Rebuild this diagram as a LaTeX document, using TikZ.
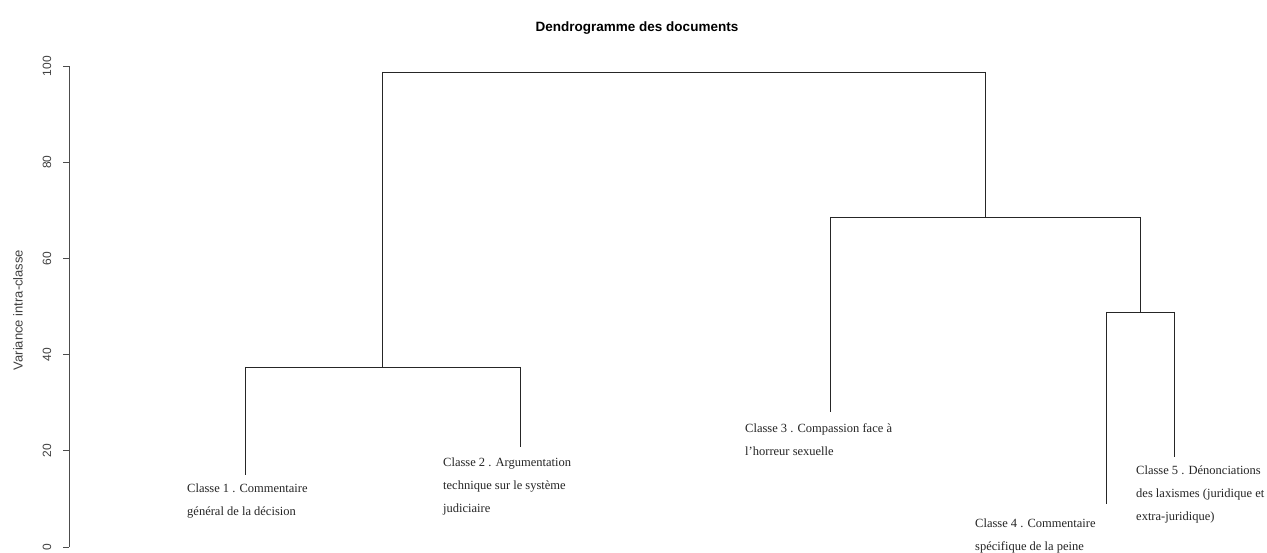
\documentclass[tikz,border=0pt]{standalone}
\usepackage{fontspec}
\setmainfont{Liberation Serif}
\newfontfamily\arial{Liberation Sans}
\begin{document}
\begin{tikzpicture}[x=1pt,y=-1pt,
  branch/.style={draw=black!85, line width=0.8pt},
  axisline/.style={draw=black!70, line width=0.8pt},
  ticklabel/.style={font=\arial\fontsize{12}{14}\selectfont, text=black!75, rotate=90, inner sep=0},
  leaflabel/.style={anchor=north west, inner sep=0, align=left, text=black!85, font=\fontsize{12.5}{23}\selectfont},
  titlestyle/.style={font=\arial\bfseries\fontsize{13.5}{15}\selectfont, inner sep=0}]
\useasboundingbox (0,0) rectangle (1267,553);
\fill[white] (0,0) rectangle (1267,553);
% title
\node[titlestyle] (title) at (637,28) {Dendrogramme des documents};
% axis
\coordinate (ax0) at (69,547);
\coordinate (ax100) at (69,66);
\draw[axisline] (ax0) -- (ax100);
\foreach \v/\yy in {0/547,20/450.8,40/354.6,60/258.4,80/162.2,100/66}{
  \draw[axisline] (63,\yy) -- (69,\yy);
  \node[ticklabel] (t\v) at (47,\yy) {\v};
}
\node[ticklabel, font=\arial\fontsize{13}{15}\selectfont] (ytitle) at (18,310) {Variance intra-classe};
% tree nodes
\coordinate (A) at (382,72);
\coordinate (B) at (985,72);
\coordinate (A0) at (382,367);
\coordinate (Al) at (245,367);
\coordinate (Ar) at (520,367);
\coordinate (L1) at (245,475);
\coordinate (L2) at (520,447);
\coordinate (B0) at (985,217);
\coordinate (Bl) at (830,217);
\coordinate (Br) at (1140,217);
\coordinate (L3) at (830,412);
\coordinate (C0) at (1140,312);
\coordinate (Cl) at (1106,312);
\coordinate (Cr) at (1174,312);
\coordinate (L4) at (1106,504);
\coordinate (L5) at (1174,457);
\draw[branch] (A) -- (B);
\draw[branch] (A) -- (A0);
\draw[branch] (Al) -- (Ar);
\draw[branch] (Al) -- (L1);
\draw[branch] (Ar) -- (L2);
\draw[branch] (B) -- (B0);
\draw[branch] (Bl) -- (Br);
\draw[branch] (Bl) -- (L3);
\draw[branch] (Br) -- (C0);
\draw[branch] (Cl) -- (Cr);
\draw[branch] (Cl) -- (L4);
\draw[branch] (Cr) -- (L5);
% leaf labels
\node[leaflabel] (c1) at (187,484) {Classe 1 . Commentaire\\général de la décision};
\node[leaflabel] (c2) at (443,458) {Classe 2 . Argumentation\\technique sur le système\\judiciaire};
\node[leaflabel] (c3) at (745,423) {Classe 3 . Compassion face à\\l'horreur sexuelle};
\node[leaflabel] (c4) at (975,519) {Classe 4 . Commentaire\\spécifique de la peine};
\node[leaflabel] (c5) at (1136,466) {Classe 5 . Dénonciations\\des laxismes (juridique et\\extra-juridique)};
\end{tikzpicture}
\end{document}
